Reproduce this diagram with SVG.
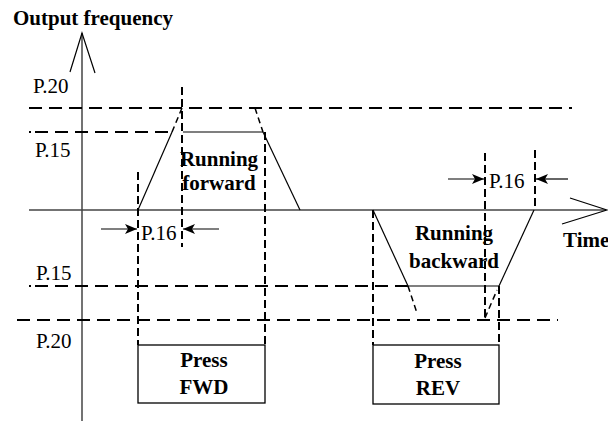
<svg xmlns="http://www.w3.org/2000/svg" width="608" height="421" viewBox="0 0 608 421">
<defs>
<style>
text{font-family:'Liberation Serif','Times New Roman','DejaVu Serif',serif;font-size:21px;fill:#000}
.b{font-weight:bold}
.axis{stroke:#444;stroke-width:1.5;fill:none}
.sol{stroke:#000;stroke-width:1.2;fill:none}
.hd{stroke:#000;stroke-width:2;stroke-dasharray:13 7;fill:none}
.vd{stroke:#000;stroke-width:2;stroke-dasharray:8 4;fill:none}
.sd{stroke:#000;stroke-width:1.5;stroke-dasharray:6 4;fill:none}
.box{stroke:#000;stroke-width:1.3;fill:#fff}
</style>
<marker id="ah" markerWidth="13" markerHeight="12" refX="12" refY="6" orient="auto" markerUnits="userSpaceOnUse">
<path d="M0,1 L12,6 L0,11 L3,6 Z" fill="#000"/>
</marker>
</defs>

<g id="axes">
<line class="axis" x1="82" y1="33" x2="82" y2="421"/>
<polyline class="sol" points="70,72 82,33 95,73"/>
<line class="axis" x1="29" y1="210" x2="606" y2="210"/>
<polyline class="sol" points="570,198 607,210 562,224"/>
</g>

<g id="levels">
<line class="hd" x1="29" y1="108" x2="572" y2="108"/>
<line class="hd" x1="35" y1="132" x2="175" y2="132"/>
<line stroke="#000" stroke-width="2" x1="29" y1="132" x2="31" y2="132"/>
<line class="hd" x1="35" y1="286" x2="408" y2="286"/>
<line stroke="#000" stroke-width="2" x1="29" y1="286" x2="31" y2="286"/>
<line class="hd" x1="17" y1="320" x2="558" y2="320"/>
</g>

<g id="forward-curve">
<polyline class="sol" points="138,210 172,132"/>
<line class="sd" x1="172" y1="132" x2="182" y2="108"/>
<line class="sol" x1="183" y1="132" x2="263" y2="132" stroke="#555"/>
<line class="sd" x1="255" y1="108" x2="263" y2="132"/>
<line class="sol" x1="263" y1="132" x2="300" y2="210"/>
</g>

<g id="backward-curve">
<line class="sol" x1="373" y1="210" x2="408" y2="286"/>
<line class="sd" x1="408" y1="286" x2="417" y2="313"/>
<line class="sol" x1="408" y1="286" x2="499" y2="286"/>
<line class="sol" x1="499" y1="286" x2="534" y2="210"/>
<line class="sd" x1="485" y1="318" x2="497" y2="290"/>
</g>

<g id="guides">
<line class="vd" x1="138" y1="172" x2="138" y2="345"/>
<line class="vd" x1="182" y1="87" x2="182" y2="247"/>
<line class="vd" x1="265" y1="132" x2="265" y2="345"/>
<line class="vd" x1="373" y1="210" x2="373" y2="345"/>
<line class="vd" x1="485" y1="153" x2="485" y2="318"/>
<line class="vd" x1="499" y1="286" x2="499" y2="345"/>
<line class="vd" x1="535" y1="150" x2="535" y2="210"/>
</g>

<g id="connectors">
<line class="sol" x1="101" y1="229" x2="137" y2="229" marker-end="url(#ah)"/>
<line class="sol" x1="219" y1="229" x2="183" y2="229" marker-end="url(#ah)"/>
<line class="sol" x1="448" y1="179" x2="484" y2="179" marker-end="url(#ah)"/>
<line class="sol" x1="568" y1="179" x2="536" y2="179" marker-end="url(#ah)"/>
</g>

<g id="labels">
<text class="b" x="13" y="25">Output frequency</text>
<text x="33" y="93">P.20</text>
<text x="35" y="157">P.15</text>
<text x="36" y="280">P.15</text>
<text x="36" y="348">P.20</text>
<text x="141" y="240">P.16</text>
<text x="489" y="188">P.16</text>
<text class="b" x="563" y="247">Time</text>
</g>

<g id="running-forward">
<text class="b" x="219" y="166" text-anchor="middle">Running</text>
<text class="b" x="219" y="190" text-anchor="middle">forward</text>
</g>

<g id="running-backward">
<text class="b" x="454" y="240" text-anchor="middle">Running</text>
<text class="b" x="454" y="268" text-anchor="middle">backward</text>
</g>

<g id="press-fwd">
<rect class="box" x="138" y="345" width="127" height="58"/>
<text class="b" x="204" y="367" text-anchor="middle">Press</text>
<text class="b" x="204" y="394" text-anchor="middle">FWD</text>
</g>

<g id="press-rev">
<rect class="box" x="373" y="345" width="126" height="59"/>
<text class="b" x="438" y="368" text-anchor="middle">Press</text>
<text class="b" x="438" y="395" text-anchor="middle">REV</text>
</g>
</svg>
